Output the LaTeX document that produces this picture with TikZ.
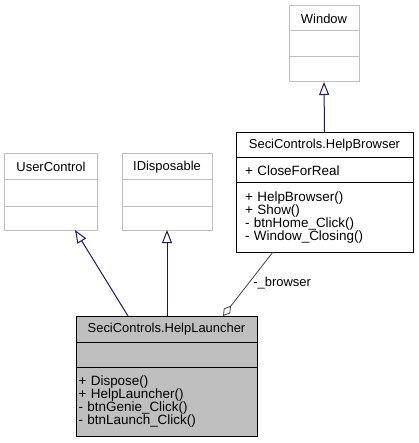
\documentclass[tikz,border=0pt]{standalone}
\usepackage{fontspec}
\setmainfont{Liberation Sans}
\usetikzlibrary{arrows.meta,positioning}
\definecolor{grey75}{HTML}{BFBFBF}
\definecolor{edgeblue}{HTML}{191970}
\definecolor{grey25}{HTML}{404040}
\tikzset{
  umlrow/.style={rectangle, draw=black, line width=1bp, inner sep=0pt, outer sep=0pt,
    font=\fontsize{13}{13.3}\selectfont},
  extrow/.style={umlrow, draw=grey75, fill=white},
  docrow/.style={umlrow, fill=white},
  hitrow/.style={umlrow, fill=grey75},
  listrow/.style={align=left, anchor=north, font=\fontsize{13.5}{13.3}\selectfont},
  inherit/.style={draw=edgeblue, line width=1bp, -{Triangle[open,length=13bp,width=10bp,fill=white]}},
  usage/.style={draw=grey25, line width=0.8bp, {Diamond[open,length=13bp,width=8bp,fill=white]}-}
}
\begin{document}
\begin{tikzpicture}[x=1bp,y=-1bp]
\useasboundingbox (0,0) rectangle (418,443);
% base classes
\node[extrow, minimum width=70bp, minimum height=25bp] (windowTitle) at (324,18.5) {Window};
\node[extrow, minimum width=70bp, minimum height=26bp, below=0pt of windowTitle] (windowAttr) {};
\node[extrow, minimum width=70bp, minimum height=25bp, below=0pt of windowAttr] (windowOps) {};
\node[extrow, minimum width=92bp, minimum height=26bp] (userTitle) at (51,167) {UserControl};
\node[extrow, minimum width=92bp, minimum height=26bp, below=0pt of userTitle] (userAttr) {};
\node[extrow, minimum width=92bp, minimum height=24bp, below=0pt of userAttr] (userOps) {};
\node[extrow, minimum width=90bp, minimum height=26bp] (idispTitle) at (167,167) {IDisposable};
\node[extrow, minimum width=90bp, minimum height=26bp, below=0pt of idispTitle] (idispAttr) {};
\node[extrow, minimum width=90bp, minimum height=24bp, below=0pt of idispAttr] (idispOps) {};
% HelpBrowser
\node[docrow, minimum width=177bp, minimum height=25bp] (browserTitle) at (324.5,145.5) {SeciControls.HelpBrowser};
\node[docrow, listrow, text width=159bp, inner xsep=9bp, minimum height=25bp, below=0pt of browserTitle] (browserAttr) {+ CloseForReal};
\node[docrow, listrow, text width=159bp, inner xsep=9bp, minimum height=69bp, below=0pt of browserAttr] (browserOps)
  {+ HelpBrowser()\\+ Show()\\- btnHome\_Click()\\- Window\_Closing()};
% HelpLauncher
\node[hitrow, minimum width=181bp, minimum height=26bp] (launcherTitle) at (166.5,329) {SeciControls.HelpLauncher};
\node[hitrow, minimum width=181bp, minimum height=25bp, below=0pt of launcherTitle] (launcherAttr) {};
\node[hitrow, listrow, text width=176bp, inner xsep=2.5bp, minimum height=69bp, below=0pt of launcherAttr] (launcherOps)
  {+ Dispose()\\+ HelpLauncher()\\- btnGenie\_Click()\\- btnLaunch\_Click()};
% edges
\draw[inherit] (browserTitle.north) -- (windowOps.south);
\draw[inherit] ([xshift=52bp]launcherTitle.north west) -- ([xshift=70bp]userOps.south west);
\draw[inherit] ([xshift=91bp]launcherTitle.north west) -- (idispOps.south);
\draw[usage] ([xshift=147bp]launcherTitle.north west) -- ([xshift=37bp]browserOps.south west)
  node[pos=0.52, right=4bp, inner sep=0pt, font=\fontsize{13}{13.3}\selectfont] (browserLabel) {-\_browser};
\end{tikzpicture}
\end{document}
